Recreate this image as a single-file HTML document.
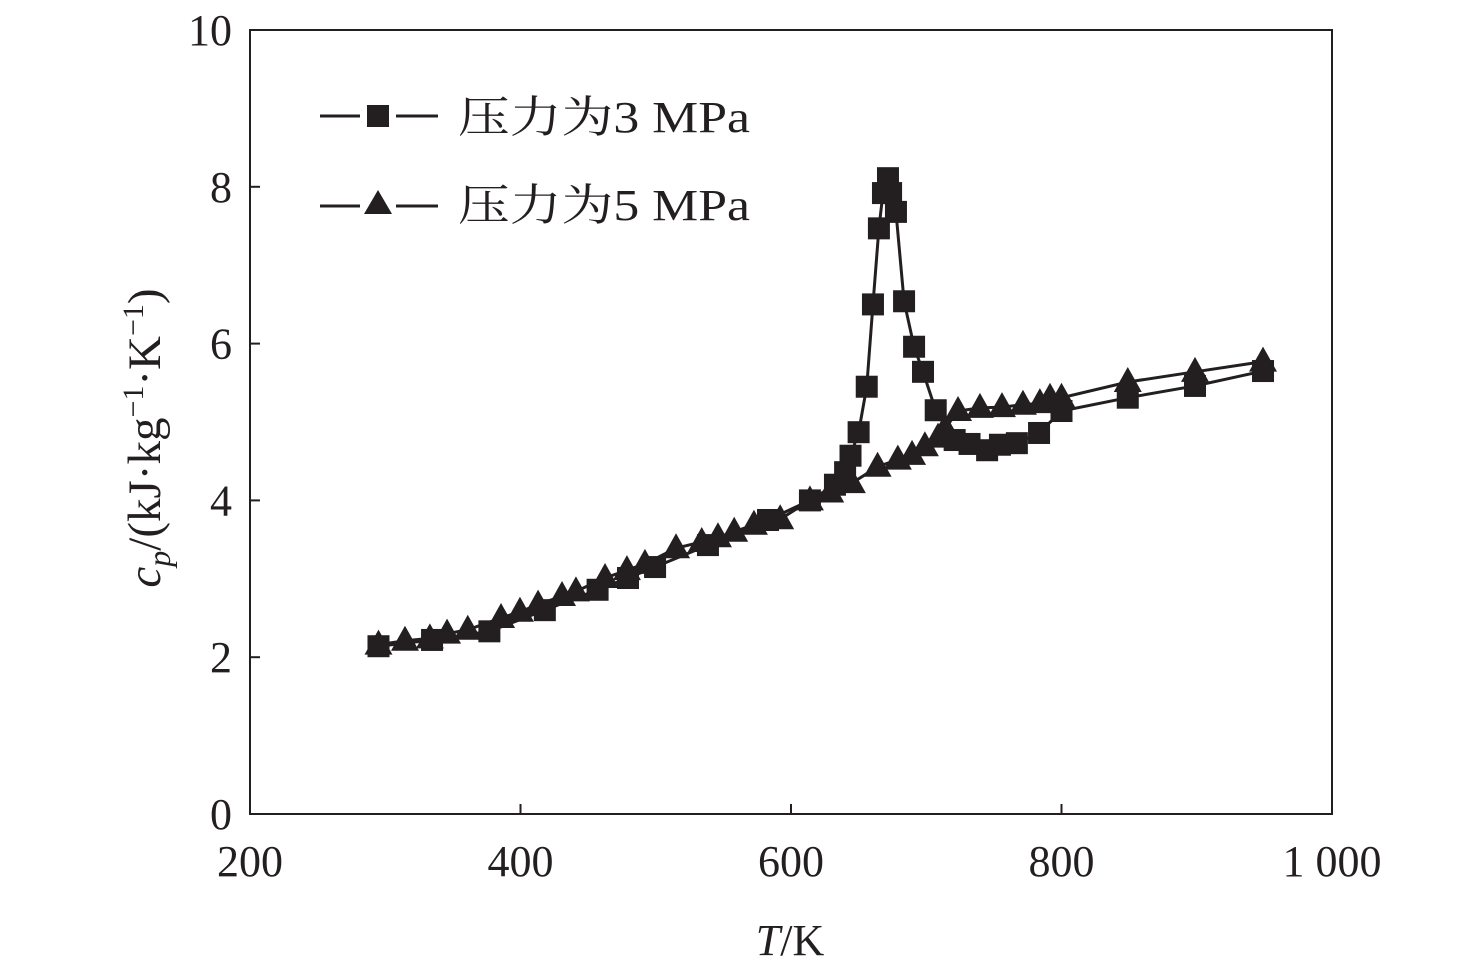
<!DOCTYPE html>
<html><head><meta charset="utf-8"><style>
body{margin:0;background:#fff}
svg text{font-family:"Liberation Serif","Noto Serif CJK SC",serif;fill:#231f20}
</style></head><body>
<svg width="1476" height="972" viewBox="0 0 1476 972">
<g id="axes"></g>
<g id="marks"></g>
<g>
 <g>
  <line x1="320" y1="116" x2="360" y2="116" stroke="#231f20" stroke-width="3"/>
  <line x1="396" y1="116" x2="438" y2="116" stroke="#231f20" stroke-width="3"/>
  <rect x="367" y="105" width="22" height="22" fill="#231f20"/>
  <text x="458" y="132" font-size="44" textLength="292" lengthAdjust="spacingAndGlyphs">压力为3 MPa</text>
 </g>
 <g>
  <line x1="320" y1="206" x2="360" y2="206" stroke="#231f20" stroke-width="3"/>
  <line x1="396" y1="206" x2="438" y2="206" stroke="#231f20" stroke-width="3"/>
  <polygon points="378,190 392,214 364,214" fill="#231f20"/>
  <text x="458" y="220" font-size="44" textLength="292" lengthAdjust="spacingAndGlyphs">压力为5 MPa</text>
 </g>
</g>
<text x="790" y="955" font-size="44" text-anchor="middle"><tspan font-style="italic">T</tspan>/K</text>
<text transform="translate(160,438) rotate(-90)" font-size="47" text-anchor="middle"><tspan font-style="italic">c</tspan><tspan font-style="italic" font-size="32" dy="10">p</tspan><tspan dy="-10">/(kJ·kg</tspan><tspan font-size="30" dy="-17">−1</tspan><tspan dy="17">·K</tspan><tspan font-size="30" dy="-17">−1</tspan><tspan dy="17">)</tspan></text>
</svg>
<script>
const xTicks=[200,400,600,800,1000];
const xTickLabels=["200","400","600","800","1 000"];
const yTicks=[0,2,4,6,8,10];
const t3=[295,334.6,377,418,457,479.5,499.5,538.6,583,614,632.5,640,644,650,656,660.6,665,668,671.7,674,677.6,683.6,691,697.6,707,721,732,745,754.5,767,783.4,800,849,898.7,949];
const cp3=[2.14,2.22,2.33,2.6,2.86,3.01,3.15,3.43,3.75,4.0,4.2,4.36,4.57,4.87,5.45,6.5,7.47,7.92,8.11,7.92,7.68,6.54,5.96,5.64,5.15,4.77,4.72,4.64,4.71,4.73,4.86,5.14,5.31,5.46,5.65];
const t5=[295,314.6,333,345.7,361,385.6,399.6,413,430.7,441,462.5,478.7,492,515,534,546,558,572.6,592,614,629,645,664,679,689.5,699,708.7,714,723.5,739.7,756,771.5,784,791.5,800,849,898.7,949];
const cp5=[2.16,2.21,2.24,2.3,2.35,2.5,2.58,2.67,2.78,2.84,3.01,3.11,3.19,3.39,3.47,3.53,3.6,3.69,3.76,4.0,4.1,4.22,4.43,4.52,4.58,4.69,4.8,4.92,5.14,5.18,5.19,5.22,5.24,5.31,5.31,5.51,5.64,5.77];
const X0=250,X1=1332,Y0=814,Y1=30;
const sx=v=>X0+(v-200)/800*(X1-X0);
const sy=v=>Y0-v/10*(Y0-Y1);
const NS="http://www.w3.org/2000/svg";
function mk(tag,attrs,parent){const e=document.createElementNS(NS,tag);for(const k in attrs)e.setAttribute(k,attrs[k]);parent.appendChild(e);return e;}
const ax=document.getElementById('axes');
const frame=mk('rect',{x:X0,y:Y1,width:X1-X0,height:Y0-Y1,fill:'none',stroke:'#231f20','stroke-width':2},ax);


xTicks.forEach((v,i)=>{
 const t=mk('line',{x1:sx(v),x2:sx(v),y1:Y0,y2:Y0-10,stroke:'#231f20','stroke-width':2},ax);
 
 
 const l=mk('text',{x:sx(v),y:876,'font-size':44,'text-anchor':'middle'},ax);l.textContent=xTickLabels[i];
 
 
});
yTicks.forEach(v=>{
 const t=mk('line',{x1:X0,x2:X0+10,y1:sy(v),y2:sy(v),stroke:'#231f20','stroke-width':2},ax);
 
 
 const l=mk('text',{x:232,y:sy(v)+15,'font-size':44,'text-anchor':'end'},ax);l.textContent=String(v);
 
 
});
const mg=document.getElementById('marks');
function series(ts,cs,kind){
 const pl=mk('polyline',{points:ts.map((t,i)=>sx(t)+','+sy(cs[i])).join(' '),fill:'none',stroke:'#231f20','stroke-width':3},mg);
 
 
 ts.forEach((t,i)=>{
  const x=sx(t),y=sy(cs[i]);let m;
  if(kind==='sq')m=mk('rect',{x:x-11,y:y-11,width:22,height:22,fill:'#231f20'},mg);
  else m=mk('polygon',{points:`${x},${y-15} ${x+14},${y+10} ${x-14},${y+10}`,fill:'#231f20'},mg);
  
  
 });
}
series(t3,cp3,'sq');
series(t5,cp5,'tri');
</script>
</body></html>
